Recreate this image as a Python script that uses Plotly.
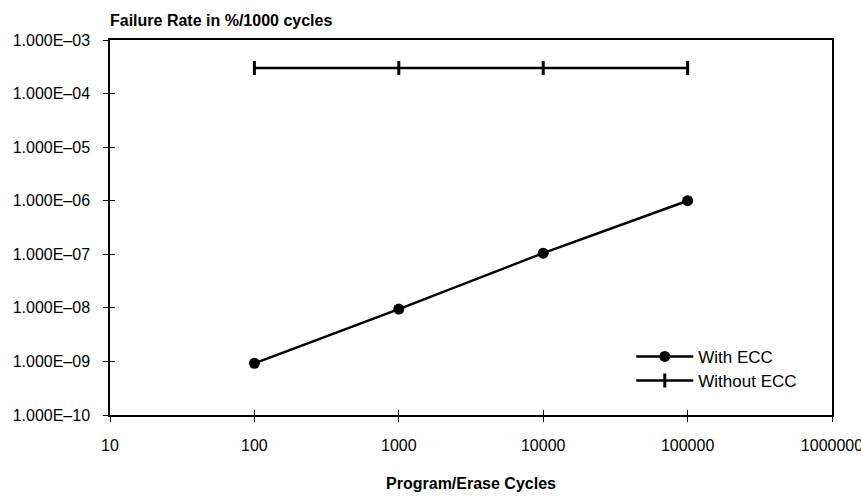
import plotly.graph_objects as go

# data
cycles = [100, 1000, 10000, 100000]
with_ecc = [9.2e-10, 9.5e-9, 1.05e-7, 1.0e-6]
without_ecc = [3.0e-4, 3.0e-4, 3.0e-4, 3.0e-4]

x_tickvals = [10, 100, 1000, 10000, 100000, 1000000]
x_ticktext = ['10', '100', '1000', '10000', '100000', '1000000']
y_tickvals = [1e-3, 1e-4, 1e-5, 1e-6, 1e-7, 1e-8, 1e-9, 1e-10]
y_ticktext = ['1.000E\u201303', '1.000E\u201304', '1.000E\u201305', '1.000E\u201306',
              '1.000E\u201307', '1.000E\u201308', '1.000E\u201309', '1.000E\u201310']

FONT = 'Liberation Sans, Arial, sans-serif'

fig = go.Figure()

fig.add_trace(go.Scatter(
    x=cycles, y=with_ecc, name='With ECC', mode='lines+markers',
    line=dict(color='black', width=2.5),
    marker=dict(symbol='circle', size=11, color='black'),
    legend='legend',
))
fig.add_trace(go.Scatter(
    x=cycles, y=without_ecc, name='Without ECC', mode='lines+markers',
    line=dict(color='black', width=2.5),
    marker=dict(symbol='line-ns', size=10, line=dict(color='black', width=3)),
    legend='legend2',
))
# invisible trace so the overlay axes (inside half of the cross ticks) get drawn
fig.add_trace(go.Scatter(x=[cycles[0]], y=[with_ecc[0]], xaxis='x2', yaxis='y2',
                         mode='markers', marker=dict(opacity=0), showlegend=False,
                         hoverinfo='skip'))

x_range = [1, 6]
y_range = [-10, -3]

leg = dict(x=0.722, xanchor='left', yanchor='middle', bgcolor='rgba(0,0,0,0)',
           font=dict(size=17), itemwidth=57)

fig.update_layout(
    width=861, height=496,
    margin=dict(l=110, r=29, t=40, b=81),
    paper_bgcolor='white', plot_bgcolor='white',
    font=dict(family=FONT, size=16, color='black'),
    showlegend=True,
    legend=dict(leg, y=0.155),
    legend2=dict(leg, y=0.091),
    annotations=[dict(text='<b>Failure Rate in %/1000 cycles</b>', x=0, y=1,
                      xref='paper', yref='paper', xanchor='left', yanchor='bottom',
                      yshift=9, xshift=-2, showarrow=False, font=dict(size=16))],
    xaxis=dict(type='log', range=x_range, tickvals=x_tickvals, ticktext=x_ticktext,
               showgrid=False, zeroline=False, showline=True, mirror=True,
               linecolor='black', linewidth=1.5, ticks='outside', ticklen=5,
               tickcolor='black', ticklabelstandoff=10, automargin=False,
               ticklabeloverflow='allow',
               title=dict(text='<b>Program/Erase Cycles</b>', font=dict(size=16),
                          standoff=25)),
    yaxis=dict(type='log', range=y_range, tickvals=y_tickvals, ticktext=y_ticktext,
               showgrid=False, zeroline=False, showline=True, mirror=True,
               linecolor='black', linewidth=1.5, ticks='outside', ticklen=5,
               tickcolor='black', ticklabelstandoff=10, automargin=False,
               ticklabeloverflow='allow'),
    xaxis2=dict(type='log', range=x_range, tickvals=x_tickvals, overlaying='x',
                side='bottom', showticklabels=False, showgrid=False, zeroline=False,
                showline=False, ticks='inside', ticklen=5, tickcolor='black',
                automargin=False),
    yaxis2=dict(type='log', range=y_range, tickvals=y_tickvals, overlaying='y',
                side='left', showticklabels=False, showgrid=False, zeroline=False,
                showline=False, ticks='inside', ticklen=5, tickcolor='black',
                automargin=False),
)

# drop the default 8px page margin so the figure sits at the window's corner
fig.write_html('out.html', config={'displayModeBar': False},
               post_script="document.body.style.margin='0';")
